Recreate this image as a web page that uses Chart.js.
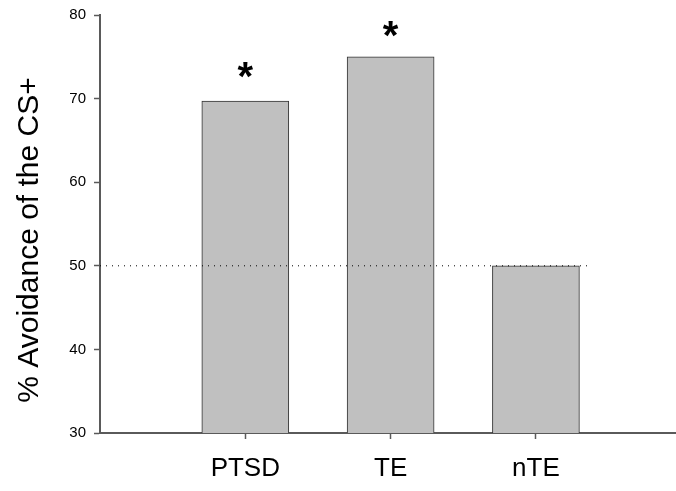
<!DOCTYPE html>
<html lang="en">
<head>
    <meta charset="UTF-8">
    <title>% Avoidance of the CS+</title>
    <script src="https://cdn.jsdelivr.net/npm/chart.js"></script>
    <style>
        html, body { margin: 0; padding: 0; background: #fff; }
        #wrap { width: 676px; height: 491px; }
    </style>
</head>
<body>
    <div id="wrap"><canvas id="chart"></canvas></div>
    <script>
        // groups and their avoidance percentages
        const groups = ['PTSD', 'TE', 'nTE'];
        const groupPos = [1, 2, 3];
        const avoidance = [69.7, 75, 50];
        const significant = [true, true, false];
        const chanceLevel = 50;
        const chanceLineEnd = 3.37;
        const yTicks = [30, 40, 50, 60, 70, 80];

        const axisColor = '#5a5a5a';
        const fontFam = "'Liberation Sans', Arial, sans-serif";

        // stars above significant bars + rotated y title
        const extras = {
            id: 'extras',
            afterDatasetsDraw(chart) {
                const ctx = chart.ctx;
                const meta = chart.getDatasetMeta(0);
                ctx.save();
                ctx.fillStyle = '#000';
                ctx.font = 'bold 40px ' + fontFam;
                ctx.textAlign = 'center';
                ctx.textBaseline = 'alphabetic';
                meta.data.forEach(function(bar, i) {
                    if (significant[i]) {
                        ctx.fillText('*', bar.x, bar.y - (i === 0 ? 11 : 8));
                    }
                });
                ctx.restore();

                ctx.save();
                ctx.translate(38, 240);
                ctx.rotate(-Math.PI / 2);
                ctx.font = '30px ' + fontFam;
                ctx.fillStyle = '#000';
                ctx.textAlign = 'center';
                ctx.textBaseline = 'alphabetic';
                ctx.fillText('% Avoidance of the CS+', 0, 0);
                ctx.restore();
            }
        };

        new Chart(document.getElementById('chart'), {
            type: 'bar',
            data: {
                datasets: [{
                    type: 'bar',
                    data: groupPos.map((x, i) => ({ x: x, y: avoidance[i] })),
                    backgroundColor: '#c0c0c0',
                    borderColor: '#333333',
                    borderWidth: 1,
                    barThickness: 87,
                    order: 1
                }, {
                    type: 'line',
                    data: [{ x: 0, y: chanceLevel }, { x: chanceLineEnd, y: chanceLevel }],
                    borderColor: '#000',
                    borderWidth: 1,
                    borderDash: [1, 5],
                    pointRadius: 0,
                    fill: false,
                    order: 0
                }]
            },
            options: {
                responsive: true,
                maintainAspectRatio: false,
                animation: false,
                layout: { padding: { top: 15, right: 0, left: 0, bottom: 0 } },
                plugins: {
                    legend: { display: false },
                    tooltip: { enabled: false }
                },
                scales: {
                    x: {
                        type: 'linear',
                        min: 0,
                        max: 3.964,
                        offset: false,
                        afterBuildTicks: function(scale) {
                            scale.ticks = groupPos.map(v => ({ value: v }));
                        },
                        afterFit: function(scale) { scale.height = 58; },
                        ticks: {
                            callback: function(value) {
                                const i = groupPos.indexOf(value);
                                return i >= 0 ? groups[i] : '';
                            },
                            color: '#000',
                            font: { family: fontFam, size: 26 },
                            padding: 14,
                            maxRotation: 0,
                            autoSkip: false
                        },
                        grid: {
                            offset: false,
                            drawOnChartArea: false,
                            drawTicks: true,
                            tickLength: 6,
                            tickColor: axisColor,
                            tickWidth: 1.5
                        },
                        border: { display: true, color: axisColor, width: 2 }
                    },
                    y: {
                        min: 30,
                        max: 80,
                        afterBuildTicks: function(scale) {
                            scale.ticks = yTicks.map(v => ({ value: v }));
                        },
                        afterFit: function(scale) {
                            scale.width = 100;
                            scale.paddingTop = 0;
                        },
                        ticks: {
                            color: '#000',
                            font: { family: fontFam, size: 15, lineHeight: 1 },
                            padding: 8
                        },
                        grid: {
                            drawOnChartArea: false,
                            drawTicks: true,
                            tickLength: 6,
                            tickColor: axisColor,
                            tickWidth: 1.5
                        },
                        border: { display: true, color: axisColor, width: 2 }
                    }
                }
            },
            plugins: [extras]
        });
    </script>
</body>
</html>
